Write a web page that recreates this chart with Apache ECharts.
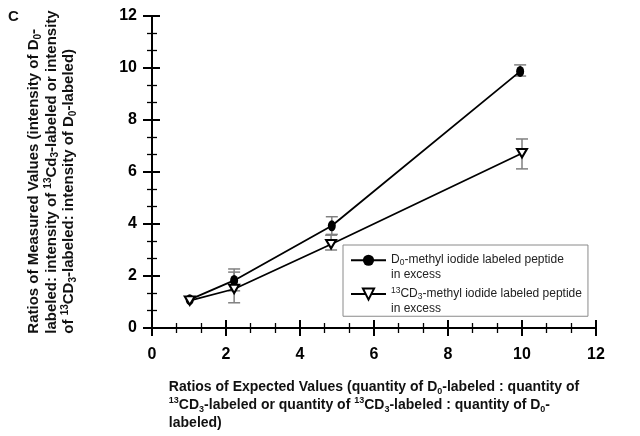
<!DOCTYPE html>
<html>
<head>
<meta charset="utf-8">
<script src="https://cdn.jsdelivr.net/npm/echarts@6/dist/echarts.min.js"></script>
<style>html,body{margin:0;padding:0;background:#fff;}#c{width:640px;height:436px;}</style>
</head>
<body>
<div id="c"></div>
<script>
// ---- data ----
var seriesNames = ['D0-methyl iodide labeled peptide in excess', '13CD3-methyl iodide labeled peptide in excess'];
var expectedD0 = [1.02, 2.22, 4.86, 9.95];
var measuredD0 = [1.09, 1.83, 3.93, 9.87];
var errLowD0 = [null, 1.43, 3.6, 9.69];
var errHighD0 = [null, 2.27, 4.28, 10.12];
var expected13 = [1.02, 2.22, 4.84, 10.0];
var measured13 = [1.05, 1.5, 3.22, 6.72];
var errLow13 = [null, 0.97, 3.0, 6.12];
var errHigh13 = [null, 2.15, 3.57, 7.27];
var xTicks = { min: 0, max: 12, interval: 2 };
var yTicks = { min: 0, max: 12, interval: 2 };

var FONT = "'Liberation Sans', Arial, sans-serif";
function pairs(xs, ys) { return xs.map(function (x, i) { return [x, ys[i]]; }); }
function errData(xs, lo, hi) {
  var out = [];
  xs.forEach(function (x, i) { if (lo[i] != null) out.push([x, lo[i], hi[i]]); });
  return out;
}
function errRender(params, api) {
  var x = api.value(0);
  var p1 = api.coord([x, api.value(1)]);
  var p2 = api.coord([x, api.value(2)]);
  var w = 6;
  var st = { stroke: '#808080', lineWidth: 1.5 };
  return {
    type: 'group',
    children: [
      { type: 'line', shape: { x1: p1[0], y1: p1[1], x2: p2[0], y2: p2[1] }, style: st },
      { type: 'line', shape: { x1: p1[0] - w, y1: p1[1], x2: p1[0] + w, y2: p1[1] }, style: st },
      { type: 'line', shape: { x1: p2[0] - w, y1: p2[1], x2: p2[0] + w, y2: p2[1] }, style: st }
    ]
  };
}

var chart = echarts.init(document.getElementById('c'), null, { renderer: 'canvas' });

var boldName = { fontFamily: FONT, fontWeight: 'bold', color: '#111' };
function axisBase(extra) {
  return Object.assign({
    type: 'value', gridIndex: 0,
    splitLine: { show: false }
  }, extra);
}

var xNameRich = {
  t: Object.assign({ fontSize: 14, lineHeight: 18, align: 'left' }, boldName),
  sub: Object.assign({ fontSize: 9, lineHeight: 18, verticalAlign: 'bottom', align: 'left' }, boldName),
  sup: Object.assign({ fontSize: 9, lineHeight: 18, verticalAlign: 'top', align: 'left' }, boldName)
};
var yNameRich = {
  t: Object.assign({ fontSize: 15, lineHeight: 17.5, align: 'left' }, boldName),
  sub: Object.assign({ fontSize: 10, lineHeight: 17.5, verticalAlign: 'bottom', align: 'left' }, boldName),
  sup: Object.assign({ fontSize: 10, lineHeight: 17.5, verticalAlign: 'top', align: 'left' }, boldName)
};

var option = {
  animation: false,
  backgroundColor: '#fff',
  title: {
    text: 'C', left: 3, top: 4,
    textStyle: { fontFamily: FONT, fontWeight: 'bold', fontSize: 15, color: '#111' }
  },
  grid: { left: 152, right: 44, top: 16, bottom: 108 },
  legend: {
    orient: 'vertical',
    left: 343, top: 245,
    data: seriesNames,
    itemWidth: 35, itemHeight: 14, itemGap: 6,
    padding: [9, 6, 2, 7],
    borderColor: '#8a8a8a', borderWidth: 1, borderRadius: 0,
    backgroundColor: '#fff',
    formatter: function (name) {
      if (name === seriesNames[0]) return '{t|D}{sub|0}{t|-methyl iodide labeled peptide}\n{t|in excess}';
      return '{sup|13}{t|CD}{sub|3}{t|-methyl iodide labeled peptide}\n{t|in excess}';
    },
    textStyle: {
      padding: [14, 0, 0, 0],
      rich: {
        t: { fontFamily: FONT, fontSize: 12, lineHeight: 14.5, color: '#222' },
        sub: { fontFamily: FONT, fontSize: 8.5, lineHeight: 14.5, verticalAlign: 'bottom', color: '#222' },
        sup: { fontFamily: FONT, fontSize: 8.5, lineHeight: 14.5, verticalAlign: 'top', color: '#222' }
      }
    }
  },
  xAxis: [
    axisBase({
      position: 'bottom', min: xTicks.min, max: xTicks.max, interval: xTicks.interval,
      axisLine: { show: true, onZero: false, lineStyle: { color: '#000', width: 2 } },
      axisTick: { show: true, inside: false, length: 8, lineStyle: { color: '#000', width: 2 } },
      minorTick: { show: true, splitNumber: 3, length: 5, lineStyle: { color: '#000', width: 1.3 } },
      axisLabel: { margin: 19, fontFamily: FONT, fontWeight: 'bold', fontSize: 16, color: '#000' },
      name: '{t|Ratios of Expected Values (quantity of D}{sub|0}{t|-labeled : quantity of}\n{sup|13}{t|CD}{sub|3}{t|-labeled or quantity of }{sup|13}{t|CD}{sub|3}{t|-labeled : quantity of D}{sub|0}{t|-}\n{t|labeled)}',
      nameLocation: 'middle', nameGap: 50,
      nameTextStyle: { rich: xNameRich }
    }),
    axisBase({
      position: 'bottom', min: xTicks.min, max: xTicks.max, interval: xTicks.interval,
      axisLine: { show: false, onZero: false },
      axisTick: { show: true, inside: true, length: 8, lineStyle: { color: '#000', width: 2 } },
      minorTick: { show: true, splitNumber: 3, length: 5, lineStyle: { color: '#000', width: 1.3 } },
      axisLabel: { show: false }
    })
  ],
  yAxis: [
    axisBase({
      position: 'left', min: yTicks.min, max: yTicks.max, interval: yTicks.interval,
      axisLine: { show: true, onZero: false, lineStyle: { color: '#000', width: 2 } },
      axisTick: { show: true, inside: false, length: 9, lineStyle: { color: '#000', width: 2 } },
      minorTick: { show: true, splitNumber: 3, length: 5, lineStyle: { color: '#000', width: 1.3 } },
      axisLabel: { margin: 15, fontFamily: FONT, fontWeight: 'bold', fontSize: 16, color: '#000' },
      name: '{t|Ratios of Measured Values (intensity of D}{sub|0}{t|-}\n{t|labeled: intensity of }{sup|13}{t|Cd}{sub|3}{t|-labeled or intensity}\n{t|of }{sup|13}{t|CD}{sub|3}{t|-labeled: intensity of D}{sub|0}{t|-labeled)}',
      nameLocation: 'middle', nameGap: 74, nameRotate: 90,
      nameTextStyle: { rich: yNameRich }
    }),
    axisBase({
      position: 'left', min: yTicks.min, max: yTicks.max, interval: yTicks.interval,
      axisLine: { show: false, onZero: false },
      axisTick: { show: true, inside: true, length: 8, lineStyle: { color: '#000', width: 2 } },
      minorTick: { show: true, splitNumber: 3, length: 5, lineStyle: { color: '#000', width: 1.3 } },
      axisLabel: { show: false }
    })
  ],
  series: [
    {
      type: 'custom', xAxisIndex: 0, yAxisIndex: 0, z: 1, silent: true,
      renderItem: errRender, data: errData(expectedD0, errLowD0, errHighD0)
    },
    {
      type: 'custom', xAxisIndex: 0, yAxisIndex: 0, z: 1, silent: true,
      renderItem: errRender, data: errData(expected13, errLow13, errHigh13)
    },
    {
      name: seriesNames[0], type: 'line', xAxisIndex: 0, yAxisIndex: 0, z: 3,
      data: pairs(expectedD0, measuredD0),
      symbol: 'circle', symbolSize: [8, 11], showAllSymbol: true,
      lineStyle: { color: '#000', width: 1.8 },
      itemStyle: { color: '#000', borderColor: '#000', borderWidth: 0 }
    },
    {
      name: seriesNames[1], type: 'line', xAxisIndex: 0, yAxisIndex: 0, z: 4,
      data: pairs(expected13, measured13),
      symbol: 'path://M0,0L12,0L6,10Z', symbolSize: [10, 8.5], showAllSymbol: true,
      lineStyle: { color: '#000', width: 1.8 },
      itemStyle: { color: '#fff', borderColor: '#000', borderWidth: 2 }
    }
  ]
};
chart.setOption(option);
</script>
</body>
</html>
